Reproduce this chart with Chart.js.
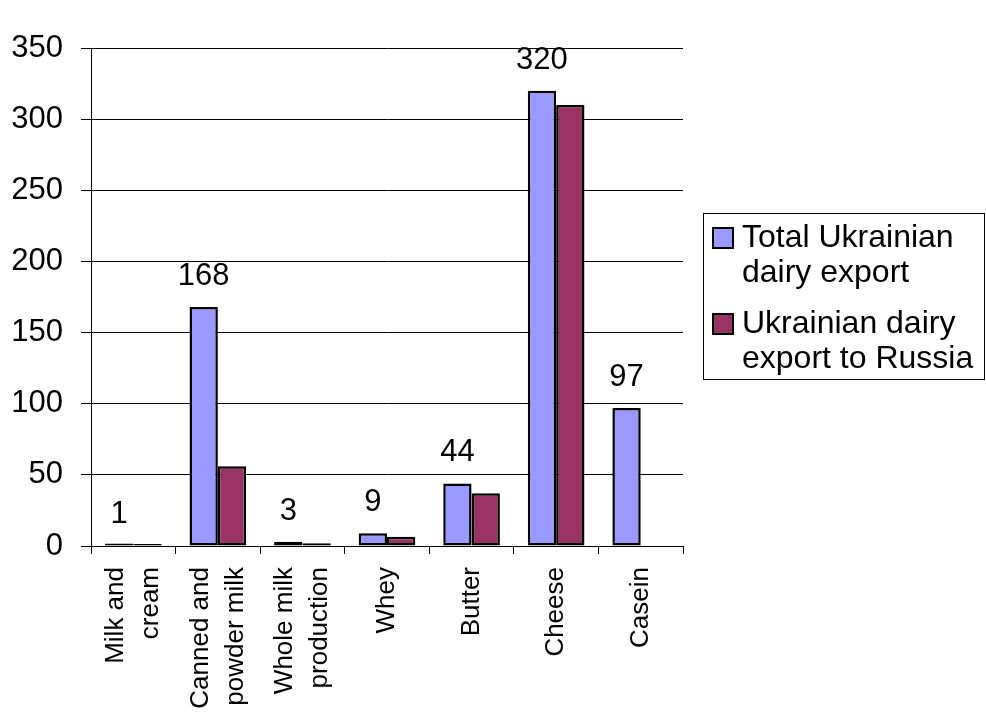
<!DOCTYPE html>
<html>
<head>
<meta charset="utf-8">
<script src="https://cdn.jsdelivr.net/npm/chart.js@4.4.1/dist/chart.umd.min.js"></script>
<style>
    html, body { margin: 0; padding: 0; background: #fff; }
    #wrap { width: 986px; height: 715px; position: relative; }
</style>
</head>
<body>
<div id="wrap"><canvas id="dairyChart" width="986" height="715"></canvas></div>
<script>
(function () {
    var categories = [
        ['Milk and', 'cream'],
        ['Canned and', 'powder milk'],
        ['Whole milk', 'production'],
        'Whey',
        'Butter',
        'Cheese',
        'Casein'
    ];
    var totalExport = [1, 168, 3, 9, 44, 320, 97];
    var russiaExport = [0.5, 56, 2, 6.5, 37, 310, null];
    var seriesNames = [
        ['Total Ukrainian', 'dairy export'],
        ['Ukrainian dairy', 'export to Russia']
    ];
    var yTicks = [0, 50, 100, 150, 200, 250, 300, 350];

    var FONT = '"Liberation Sans", Arial, sans-serif';

    // values over the first series only
    var valueLabels = {
        id: 'valueLabels',
        afterDatasetsDraw: function (chart) {
            var ctx = chart.ctx;
            var meta = chart.getDatasetMeta(0);
            var yScale = chart.scales.y;
            ctx.save();
            ctx.font = '31px ' + FONT;
            ctx.fillStyle = '#000';
            ctx.textAlign = 'center';
            ctx.textBaseline = 'alphabetic';
            meta.data.forEach(function (bar, i) {
                var v = chart.data.datasets[0].data[i];
                if (v === null) return;
                ctx.fillText(String(v), bar.x, yScale.getPixelForValue(v) - 22);
            });
            ctx.restore();
        }
    };

    // vertical category names, lines centred on the tick
    var verticalLabels = {
        id: 'verticalLabels',
        afterDraw: function (chart) {
            var ctx = chart.ctx;
            var xs = chart.scales.x;
            var lh = 35;
            ctx.save();
            ctx.font = '26px ' + FONT;
            ctx.fillStyle = '#000';
            ctx.textAlign = 'right';
            ctx.textBaseline = 'middle';
            chart.data.labels.forEach(function (label, i) {
                var lines = Array.isArray(label) ? label : [label];
                var px = xs.getPixelForTick(i);
                ctx.save();
                ctx.translate(px, xs.top + 21);
                ctx.rotate(-Math.PI / 2);
                lines.forEach(function (line, j) {
                    ctx.fillText(line, 0, (j - (lines.length - 1) / 2) * lh);
                });
                ctx.restore();
            });
            ctx.restore();
        }
    };

    // boxed legend with wrapped names
    var boxLegend = {
        id: 'boxLegend',
        afterDraw: function (chart) {
            var ctx = chart.ctx;
            var left = chart.chartArea.right + 20;
            var top = 213;
            var right = chart.width - 1;
            var bottom = 380;
            ctx.save();
            ctx.fillStyle = '#fff';
            ctx.fillRect(left, top, right - left, bottom - top);
            ctx.strokeStyle = '#000';
            ctx.lineWidth = 1;
            ctx.strokeRect(left + 0.5, top + 0.5, right - left - 1, bottom - top - 1);
            ctx.font = '32px ' + FONT;
            ctx.textBaseline = 'alphabetic';
            ctx.textAlign = 'left';
            chart.data.datasets.forEach(function (ds, i) {
                var base = 247 + i * 86;
                ctx.fillStyle = ds.backgroundColor;
                ctx.fillRect(left + 10, base - 19, 20, 20);
                ctx.strokeStyle = '#000';
                ctx.lineWidth = 2;
                ctx.strokeRect(left + 10, base - 19, 20, 20);
                ctx.fillStyle = '#000';
                seriesNames[i].forEach(function (line, j) {
                    ctx.fillText(line, left + 39, base + j * 35);
                });
            });
            ctx.restore();
        }
    };

    new Chart(document.getElementById('dairyChart').getContext('2d'), {
        type: 'bar',
        data: {
            labels: categories,
            datasets: [
                {
                    label: seriesNames[0].join(' '),
                    data: totalExport,
                    backgroundColor: '#9999FF',
                    borderColor: '#000',
                    borderWidth: 2.5,
                    borderSkipped: false,
                    minBarLength: 2.5,
                    barPercentage: 1,
                    categoryPercentage: 0.67
                },
                {
                    label: seriesNames[1].join(' '),
                    data: russiaExport,
                    backgroundColor: '#993366',
                    borderColor: '#000',
                    borderWidth: 2.5,
                    borderSkipped: false,
                    minBarLength: 2,
                    barPercentage: 1,
                    categoryPercentage: 0.67
                }
            ]
        },
        options: {
            responsive: false,
            animation: false,
            layout: { padding: { left: 0, top: 48, right: 303, bottom: 0 } },
            plugins: {
                legend: { display: false },
                tooltip: { enabled: false }
            },
            scales: {
                x: {
                    grid: {
                        display: true,
                        drawOnChartArea: false,
                        offset: true,
                        color: '#000',
                        tickLength: 8
                    },
                    border: { color: '#000', width: 1 },
                    ticks: { display: false, autoSkip: false },
                    afterFit: function (scale) { scale.height = 169; }
                },
                y: {
                    min: 0,
                    max: 350,
                    afterBuildTicks: function (scale) {
                        scale.ticks = yTicks.map(function (v) { return { value: v }; });
                    },
                    grid: { color: '#000', lineWidth: 1, tickLength: 10 },
                    border: { color: '#000', width: 1 },
                    ticks: {
                        padding: 18,
                        color: '#000',
                        font: { family: FONT, size: 31 }
                    },
                    afterFit: function (scale) { scale.width = 91; }
                }
            }
        },
        plugins: [valueLabels, verticalLabels, boxLegend]
    });
})();
</script>
</body>
</html>
